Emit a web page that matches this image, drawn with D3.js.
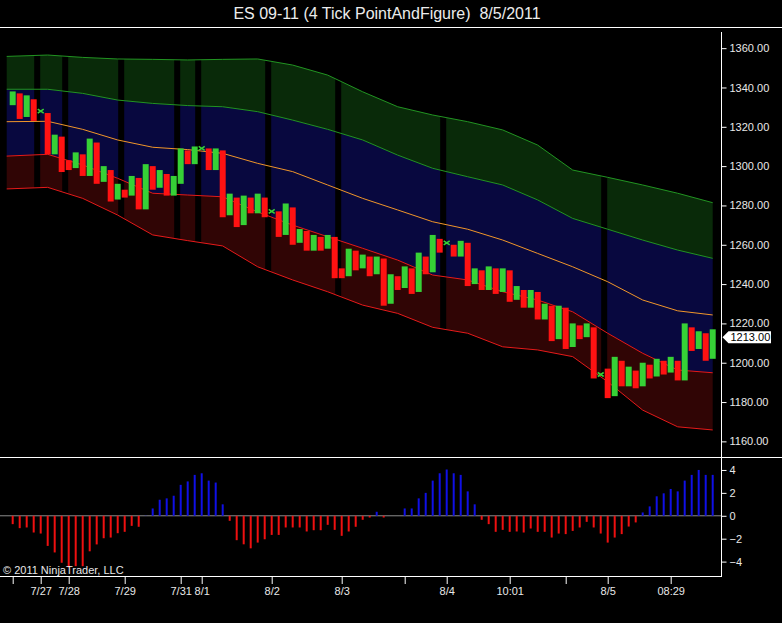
<!DOCTYPE html>
<html>
<head>
<meta charset="utf-8">
<script src="https://cdn.jsdelivr.net/npm/d3@7"></script>
<style>
  html, body { margin: 0; padding: 0; background: #000; }
  svg { display: block; font-family: "Liberation Sans", Arial, sans-serif; }
</style>
</head>
<body>
<div id="chart"></div>
<script>
// ES 09-11, 4 tick point & figure bars, one value per bar
const opens = [
  1331, 1337, 1325, 1334, 1328, 1327, 1306, 1315, 1303, 1299,
  1306, 1295, 1312, 1292, 1298, 1283, 1288, 1285, 1294, 1278,
  1300, 1289, 1296, 1285, 1291, 1308, 1301, 1309, 1309, 1298,
  1308, 1275, 1284, 1270, 1284, 1276, 1284, 1277, 1277, 1265,
  1279, 1261, 1267, 1257, 1264, 1258, 1264, 1248, 1244, 1257,
  1248, 1254, 1245, 1253, 1230, 1244, 1238, 1248, 1236, 1254,
  1246, 1263, 1261, 1260, 1254, 1261, 1240, 1247, 1237, 1248,
  1236, 1247, 1232, 1237, 1228, 1236, 1222, 1229, 1212, 1228,
  1208, 1219, 1213, 1218, 1194, 1197, 1183, 1201, 1188, 1196,
  1188, 1199, 1193, 1201, 1195, 1201, 1191, 1218, 1207, 1215,
  1202
];
const closes = [
  1338, 1324, 1336, 1323, 1328, 1306, 1316, 1297, 1298, 1307,
  1295, 1314, 1291, 1300, 1282, 1291, 1284, 1295, 1278, 1301,
  1288, 1298, 1285, 1295, 1309, 1301, 1310, 1309, 1298, 1309,
  1274, 1286, 1269, 1285, 1276, 1286, 1274, 1277, 1264, 1281,
  1260, 1268, 1257, 1265, 1257, 1265, 1243, 1243, 1258, 1247,
  1255, 1244, 1254, 1229, 1245, 1237, 1249, 1235, 1256, 1245,
  1265, 1256, 1261, 1254, 1262, 1239, 1248, 1237, 1249, 1235,
  1248, 1231, 1239, 1228, 1237, 1222, 1230, 1211, 1229, 1207,
  1220, 1212, 1220, 1192, 1194, 1182, 1203, 1188, 1198, 1187,
  1200, 1192, 1202, 1194, 1203, 1191, 1220, 1206, 1216, 1201,
  1217
];

// bands, sampled every 5 bars
const bandIdx = [0, 5, 10, 15, 20, 25, 30, 35, 40, 45, 50, 55, 60, 65, 70, 75, 80, 85, 90, 95, 100];
const upperOuter = [1355.8, 1356.5, 1355.3, 1354.5, 1354.3, 1354.0, 1354.3, 1354.5, 1351.4, 1346.3, 1337.8,
  1330.2, 1326.0, 1322.6, 1318.4, 1310.7, 1298.0, 1294.3, 1290.4, 1286.2, 1281.4];
const upperInner = [1339.1, 1339.1, 1337.0, 1333.6, 1331.9, 1330.8, 1330.2, 1327.7, 1323.4, 1318.7, 1313.3,
  1305.6, 1298.9, 1294.6, 1290.4, 1282.8, 1273.4, 1267.9, 1262.4, 1257.3, 1253.1];
const midLine = [1322.6, 1322.8, 1318.7, 1313.3, 1309.6, 1308.4, 1306.5, 1301.4, 1297.2, 1290.4, 1283.6,
  1277.7, 1271.7, 1267.9, 1262.4, 1255.6, 1248.8, 1241.2, 1231.9, 1226.4, 1224.3];
const lowerInner = [1305.1, 1306.0, 1300.6, 1293.8, 1286.2, 1285.3, 1284.4, 1276.7, 1270.0, 1264.1, 1258.2,
  1252.2, 1244.6, 1242.1, 1236.1, 1231.9, 1225.9, 1215.0, 1204.8, 1196.3, 1194.9];
const lowerOuter = [1288.4, 1289.2, 1283.6, 1275.1, 1265.0, 1262.1, 1259.4, 1248.8, 1242.1, 1236.1, 1229.3,
  1225.1, 1218.0, 1215.0, 1208.1, 1206.5, 1203.1, 1190.3, 1175.9, 1167.4, 1165.8];

// oscillator in the lower panel
const osc = [
  -0.73, -1.08, -1.02, -1.46, -1.55, -2.63, -3.2, -4.1, -4.5, -4.4,
  -4.4, -3.1, -2.5, -1.96, -1.9, -1.52, -1.4, -0.88, -0.96, 0.02,
  0.64, 1.4, 1.52, 1.75, 2.7, 3.0, 3.57, 3.71, 3.07, 2.9,
  1.0, -0.44, -2.13, -2.49, -2.84, -2.34, -2.05, -1.67, -1.67, -1.02,
  -1.02, -1.02, -1.37, -1.26, -1.26, -0.79, -1.23, -1.75, -1.37, -0.96,
  -0.35, -0.15, 0.35, -0.15, 0, 0, 0.64, 0.64, 1.52, 2.0,
  3.07, 3.71, 4.04, 3.71, 3.57, 2.13, 1.0, -0.35, -0.73, -1.4,
  -1.23, -1.4, -1.37, -1.46, -1.11, -1.4, -1.4, -1.9, -1.55, -1.6,
  -1.32, -1.02, -0.53, -1.02, -1.55, -2.34, -1.9, -1.6, -0.94, -0.58,
  0.29, 0.82, 1.7, 1.96, 2.34, 2.13, 3.07, 3.57, 4.0, 3.57,
  3.57
];

// time axis
const tickIdx = [0, 4, 8, 16, 24, 27, 37, 47, 56, 62, 71, 79, 85, 94];
const tickLabels = ["", "7/27", "7/28", "7/29", "7/31", "8/1", "8/2", "8/3", "", "8/4", "10:01", "", "8/5", "08:29"];
const sessionBreaks = [4, 8, 16, 24, 27, 37, 47, 62, 85];

const priceTicks = [1160, 1180, 1200, 1220, 1240, 1260, 1280, 1300, 1320, 1340, 1360];
const oscTicks = [4, 2, 0, -2, -4];
const lastPrice = 1213;

const W = 782, H = 623;
const axisX = 721.5;

const svg = d3.select('#chart')
  .append('svg')
  .attr('width', W)
  .attr('height', H);

svg.append('rect').attr('width', W).attr('height', H).attr('fill', '#000');

// scales
const x = d3.scaleLinear().domain([0, 100]).range([12.7, 712.7]);
const y = d3.scaleLinear().domain([1152, 1370]).range([457.1, 28.5]);
const yo = d3.scaleLinear().domain([-5.3, 5]).range([576.5, 458.5]);

// bands reach a bit left of the first bar
const bx = function(i) { return i === 0 ? x(0) - 6 : x(i); };

const price = svg.append('g');
price.append('clipPath').attr('id', 'pclip')
  .append('rect').attr('x', 0).attr('y', 28).attr('width', axisX).attr('height', 429);
const plot = price.append('g').attr('clip-path', 'url(#pclip)');

function band(a, b, fill) {
  plot.append('path')
    .datum(bandIdx)
    .attr('fill', fill)
    .attr('d', d3.area()
      .x(function(d) { return bx(d); })
      .y0(function(d, k) { return y(b[k]); })
      .y1(function(d, k) { return y(a[k]); }));
}
band(upperOuter, upperInner, '#092a09');
band(upperInner, lowerInner, '#08083f');
band(lowerInner, lowerOuter, '#300505');

// session breaks cut through the band fill
plot.selectAll('rect.brk')
  .data(sessionBreaks)
  .enter()
  .append('rect')
  .attr('class', 'brk')
  .attr('x', function(d) { return x(d - 0.5) - 3; })
  .attr('y', 28)
  .attr('width', 6)
  .attr('height', 429)
  .attr('fill', '#000');

function bandLine(vals, color) {
  plot.append('path')
    .datum(bandIdx)
    .attr('fill', 'none')
    .attr('stroke', color)
    .attr('stroke-width', 1)
    .attr('d', d3.line()
      .x(function(d) { return bx(d); })
      .y(function(d, k) { return y(vals[k]); }));
}
bandLine(upperOuter, '#229422');
bandLine(upperInner, '#229422');
bandLine(midLine, '#f0962a');
bandLine(lowerInner, '#e61a1a');
bandLine(lowerOuter, '#e61a1a');

// bars
const up = '#36d136', down = '#ff1212';
const idx = d3.range(opens.length);

plot.selectAll('rect.bar')
  .data(idx.filter(function(i) { return opens[i] !== closes[i]; }))
  .enter()
  .append('rect')
  .attr('class', 'bar')
  .attr('x', function(i) { return x(i) - 3; })
  .attr('y', function(i) { return y(Math.max(opens[i], closes[i])); })
  .attr('width', 6)
  .attr('height', function(i) { return y(Math.min(opens[i], closes[i])) - y(Math.max(opens[i], closes[i])); })
  .attr('fill', function(i) { return closes[i] > opens[i] ? up : down; });

// open == close shows as a small cross
plot.selectAll('path.doji')
  .data(idx.filter(function(i) { return opens[i] === closes[i]; }))
  .enter()
  .append('path')
  .attr('class', 'doji')
  .attr('d', function(i) {
    const cx = x(i), cy = y(opens[i]);
    return 'M' + (cx - 3) + ',' + (cy - 2) + 'L' + (cx + 3) + ',' + (cy + 2) +
      'M' + (cx + 3) + ',' + (cy - 2) + 'L' + (cx - 3) + ',' + (cy + 2);
  })
  .attr('fill', 'none')
  .attr('stroke', up)
  .attr('stroke-width', 1.6);

// oscillator panel
svg.append('line')
  .attr('x1', 0).attr('x2', axisX)
  .attr('y1', yo(0)).attr('y2', yo(0))
  .attr('stroke', '#8c8c8c');

svg.selectAll('rect.osc')
  .data(idx)
  .enter()
  .append('rect')
  .attr('class', 'osc')
  .attr('x', function(i) { return x(i) - 1; })
  .attr('y', function(i) { return yo(Math.max(0, osc[i])); })
  .attr('width', 2)
  .attr('height', function(i) { return Math.abs(yo(osc[i]) - yo(0)); })
  .attr('fill', function(i) { return osc[i] >= 0 ? '#1010e6' : '#ee1010'; });

// frame lines
svg.append('line').attr('x1', 0).attr('x2', W).attr('y1', 27.5).attr('y2', 27.5).attr('stroke', '#fff');
svg.append('line').attr('x1', 0).attr('x2', W).attr('y1', 457.5).attr('y2', 457.5).attr('stroke', '#fff');
svg.append('line').attr('x1', 0).attr('x2', axisX).attr('y1', 576.5).attr('y2', 576.5).attr('stroke', '#fff');
svg.append('line').attr('x1', axisX).attr('x2', axisX).attr('y1', 32).attr('y2', 577).attr('stroke', '#fff');

// right axes
const priceAxis = d3.axisRight(y)
  .tickValues(priceTicks)
  .tickSize(5)
  .tickPadding(3)
  .tickFormat(d3.format('.2f'));
const oscAxis = d3.axisRight(yo)
  .tickValues(oscTicks)
  .tickSize(5)
  .tickPadding(3)
  .tickFormat(d3.format('d'));

[priceAxis, oscAxis].forEach(function(ax) {
  const g = svg.append('g')
    .attr('transform', 'translate(' + axisX + ',0)')
    .call(ax);
  g.select('.domain').remove();
  g.selectAll('line').attr('stroke', '#fff');
  g.selectAll('text')
    .attr('fill', '#e8e8e8')
    .attr('font-size', 11)
    .attr('font-family', '"Liberation Sans", Arial, sans-serif');
});

// last price marker
const ly = y(lastPrice);
svg.append('path')
  .attr('d', 'M' + (axisX + 1) + ',' + ly + 'L' + (axisX + 7) + ',' + (ly - 6) + 'L' + 771 + ',' + (ly - 6) +
    'L' + 771 + ',' + (ly + 6) + 'L' + (axisX + 7) + ',' + (ly + 6) + 'Z')
  .attr('fill', '#fff');
svg.append('text')
  .attr('x', axisX + 9)
  .attr('y', ly)
  .attr('dy', '0.35em')
  .attr('font-size', 11)
  .attr('fill', '#000')
  .text(d3.format('.2f')(lastPrice));

// time axis
const timeAxis = d3.axisBottom(x)
  .tickValues(tickIdx)
  .tickSize(7)
  .tickPadding(3)
  .tickFormat(function(d, k) { return tickLabels[k]; });
const tg = svg.append('g')
  .attr('transform', 'translate(0,577)')
  .call(timeAxis);
tg.select('.domain').remove();
tg.selectAll('line').attr('stroke', '#fff');
tg.selectAll('text')
  .attr('fill', '#e8e8e8')
  .attr('font-size', 11)
  .attr('font-family', '"Liberation Sans", Arial, sans-serif');

// title and credit
svg.append('text')
  .attr('x', 387)
  .attr('y', 19)
  .attr('text-anchor', 'middle')
  .attr('font-size', 16)
  .attr('fill', '#ececec')
  .style('white-space', 'pre')
  .text('ES 09-11 (4 Tick PointAndFigure)  8/5/2011');

svg.append('text')
  .attr('x', 3)
  .attr('y', 574)
  .attr('font-size', 11)
  .attr('fill', '#e8e8e8')
  .text('\u00a9 2011 NinjaTrader, LLC');
</script>
</body>
</html>
